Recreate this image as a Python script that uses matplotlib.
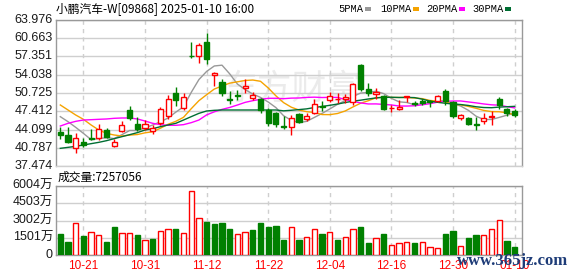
import matplotlib
matplotlib.use('Agg')
import matplotlib.pyplot as plt
from matplotlib.patches import Rectangle
import numpy as np
import pandas as pd

dates = ['10-16','10-17','10-18','10-21','10-22','10-23','10-24','10-25','10-28','10-29','10-30','10-31',
         '11-01','11-04','11-05','11-06','11-07','11-08','11-11','11-12','11-13','11-14','11-15','11-18',
         '11-19','11-20','11-21','11-22','11-25','11-26','11-27','11-28','11-29',
         '12-02','12-03','12-04','12-05','12-06','12-09','12-10','12-11','12-12','12-13','12-16','12-17',
         '12-18','12-19','12-20','12-23','12-24','12-27','12-30','12-31',
         '01-02','01-03','01-06','01-07','01-08','01-09','01-10']
opens = [43.65,43.10,40.68,41.77,42.55,42.50,44.01,41.16,43.89,47.64,45.10,44.31,43.89,45.22,46.60,50.66,
         47.94,57.50,57.44,59.98,53.99,52.78,49.64,50.42,51.57,49.76,49.58,47.64,47.15,44.73,44.61,46.85,
         45.95,47.15,48.37,49.45,49.58,49.58,49.15,55.75,51.39,50.55,50.18,47.94,47.88,49.94,48.85,49.33,
         49.27,49.27,51.15,49.15,46.19,46.19,45.10,45.70,46.40,49.64,47.76,47.52]
highs = [44.49,44.61,43.53,42.50,44.13,45.04,44.43,42.31,45.64,48.37,46.31,45.82,44.92,48.12,50.36,51.88,
         50.66,60.04,59.74,61.68,54.60,53.21,51.15,51.27,53.21,50.97,49.76,47.94,47.34,46.55,46.73,47.03,
         47.15,49.58,49.27,50.97,50.66,50.54,52.48,55.93,52.48,51.57,50.30,48.55,49.45,50.18,49.27,49.70,
         49.39,50.36,51.39,49.33,46.85,46.31,46.43,47.03,47.50,49.94,47.94,47.76]
lows = [42.44,41.71,39.89,40.98,42.19,42.19,42.50,40.86,43.71,45.82,43.89,44.01,43.28,44.92,45.95,48.37,
        47.64,57.02,56.23,55.99,51.99,50.18,48.73,49.45,50.79,49.45,47.15,44.73,44.49,44.13,43.04,45.22,
        45.70,46.91,47.52,49.15,48.97,48.97,48.55,51.15,50.18,49.58,47.64,47.34,47.64,49.09,48.37,48.61,
        48.24,49.09,48.61,46.19,45.82,44.98,44.01,45.10,45.00,47.76,46.55,46.43]
closes = [43.16,41.89,42.50,41.35,42.38,44.13,42.68,41.77,44.86,46.13,44.13,45.04,44.43,47.76,49.58,49.45,
          49.94,57.40,59.44,56.96,54.42,50.66,49.52,50.18,51.99,50.30,47.64,45.34,45.10,44.61,46.13,45.52,
          46.55,48.67,48.24,50.18,49.70,49.94,52.36,51.39,50.70,50.85,47.76,48.06,48.24,50.12,48.73,48.85,
          49.03,50.18,49.27,46.55,46.73,45.16,44.85,46.25,46.60,48.61,47.15,46.67]
volumes = [1827,1160,2755,1653,2001,1711,1131,2407,1885,1885,1740,1305,1392,2088,2233,2262,1885,5568,3190,2900,
           2697,2813,2262,1827,2001,2175,2813,2465,2523,1305,2407,1305,1537,2233,1827,2001,1305,1537,2233,2436,
           1015,1450,1827,841,1044,1131,1044,1131,667,580,1827,2088,754,1479,1740,1711,2233,3016,1218,725.7]
ma5_head = [46.43,45.52,44.49,43.40]
ma10_head = [48.55,47.64,46.73,45.95,44.92,44.01,43.40,43.10,42.92]
ma20_head = [44.73,45.22,45.58,45.82,45.88,45.95,46.01,46.13,46.19,46.19,46.01,45.64,45.22,44.98,44.86,44.86,
             44.98,45.34,45.82]
ma30_head = [40.68,40.86,41.04,41.29,41.53,41.77,42.07,42.44,42.80,43.16,43.53,44.01,44.25,44.61,44.92,45.22,
             45.82,46.43,47.03,47.46,47.58,47.64,47.64,47.64,47.64,47.64,47.64,47.64,47.64]
price_ticks = [37.474,40.787,44.099,47.412,50.725,54.038,57.351,60.663,63.976]
vol_ticks = [0,1501,3002,4503,6004]
vol_tick_labels = ['0','1501万','3002万','4503万','6004万']
xtick_labels = ['10-21','10-31','11-12','11-22','12-04','12-16','12-30','01-10']
title = '小鹏汽车-W[09868] 2025-01-10 16:00'
ma_names = ['5PMA','10PMA','20PMA','30PMA']
last_volume = 7257056

RED = '#ff0000'
GREEN = '#008000'
MA_COLORS = ['#999999','#f5a300','#ff00ff','#006e33']
GRID = '#cfcfcf'
SPINE = '#999999'
CJK = ['Noto Sans CJK SC','DejaVu Sans']

W, H = 578, 276
fig = plt.figure(figsize=(W/100, H/100), dpi=100)
fig.patch.set_facecolor('white')

def fx(x): return x / W
def fy(y): return 1 - y / H

axp = fig.add_axes([fx(56), fy(166), 466/W, 146/H])
axv = fig.add_axes([fx(56), fy(255), 466/W, 69/H])

n = len(closes)
x = np.arange(n)
o = np.array(opens); c = np.array(closes); hi = np.array(highs); lo = np.array(lows)

def ma(period, head):
    m = pd.Series(c).rolling(period).mean().to_numpy()
    m[:len(head)] = head
    return m

mas = [ma(5, ma5_head), ma(10, ma10_head), ma(20, ma20_head), ma(30, ma30_head)]

bw = 0.66
for i in range(n):
    up = c[i] > o[i]
    col = RED if up else GREEN
    bot, top = min(o[i], c[i]), max(o[i], c[i])
    axp.vlines(i, lo[i], hi[i], color=col, lw=1, zorder=3)
    if top - bot < 0.08:
        axp.hlines((o[i]+c[i])/2, i-bw/2, i+bw/2, color=col, lw=1.2, zorder=4)
    else:
        axp.add_patch(Rectangle((i-bw/2, bot), bw, top-bot, facecolor='white' if up else col,
                                edgecolor=col, lw=1, zorder=4))

for m, colr in zip(mas, MA_COLORS):
    axp.plot(x, m, color=colr, lw=1, zorder=2)

xlim = (-0.56, n - 1 + 0.96)
axp.set_xlim(*xlim)
axp.set_ylim(price_ticks[0], price_ticks[-1])
axv.set_xlim(*xlim)
axv.set_ylim(vol_ticks[0], vol_ticks[-1])

tick_pos = [dates.index(l) for l in xtick_labels]
for ax, ticks in ((axp, price_ticks), (axv, vol_ticks)):
    for t in ticks:
        ax.axhline(t, color=GRID, lw=1, zorder=0)
    for p in tick_pos:
        ax.axvline(p, color=GRID, lw=1, ls=(0, (3, 3)), zorder=0)
    ax.set_xticks([]); ax.set_yticks([])
    for s in ax.spines.values():
        s.set_color(SPINE); s.set_linewidth(1)
axp.spines['bottom'].set_color(GRID)

# volume bars (colour by close vs previous close)
for i in range(n):
    upv = (c[i] > o[i]) if i == 0 else (c[i] >= c[i-1])
    col = RED if upv else GREEN
    axv.add_patch(Rectangle((i-0.34, 0), 0.68, volumes[i], facecolor='white' if upv else col,
                            edgecolor=col, lw=1, zorder=3))

# watermark in price panel
fig.text(fx(292), fy(89), '东方财富', ha='center', va='center', fontsize=25, family=CJK,
         color='#ebebeb', zorder=0.5)

axp.set_zorder(2); axv.set_zorder(2)
axp.patch.set_alpha(0); axv.patch.set_alpha(0)

# y tick labels
for t in price_ticks:
    yy = axp.transData.transform((0, t))[1]
    fig.text(fx(53), yy / H, f'{t:.3f}', ha='right', va='center', fontsize=9,
             family='Liberation Sans', color='#1a1a1a')
for t, lab in zip(vol_ticks, vol_tick_labels):
    yy = axv.transData.transform((0, t))[1]
    fig.text(fx(53), yy / H, lab, ha='right', va='center', fontsize=9,
             family=['Liberation Sans', 'Noto Sans CJK SC'], color='#1a1a1a')

# x tick labels
for p, lab in zip(tick_pos, xtick_labels):
    xx = axv.transData.transform((p, 0))[0]
    fig.text(xx / W, fy(266), lab, ha='center', va='center', fontsize=8.5,
             family='Liberation Sans', color=RED)

# title
fig.text(fx(56), fy(9), title, ha='left', va='center', fontsize=8.5, family=CJK, color='black')

# legend
leg_text_x = [338, 380, 426, 472]
leg_box_x = [365, 413, 459, 505]
for tx, bx, name, colr in zip(leg_text_x, leg_box_x, ma_names, MA_COLORS):
    fig.text(fx(tx), fy(9), name, ha='left', va='center', fontsize=7.5,
             family='Liberation Mono', color='black')
    fig.patches.append(Rectangle((fx(bx), fy(11)), 6/W, 4/H, transform=fig.transFigure,
                                 facecolor=colr, edgecolor='none', figure=fig))

# volume header
fig.text(fx(58), fy(177), f'成交量:{last_volume}', ha='left', va='center', fontsize=8.5,
         family=CJK, color='black')

# site watermark
fig.text(fx(513), fy(261), 'www.365jz.com', ha='center', va='center', fontsize=12,
         family='Liberation Serif', weight='bold', color='#1e3c78', zorder=5)

fig.savefig('out.png', dpi=100, facecolor='white')
